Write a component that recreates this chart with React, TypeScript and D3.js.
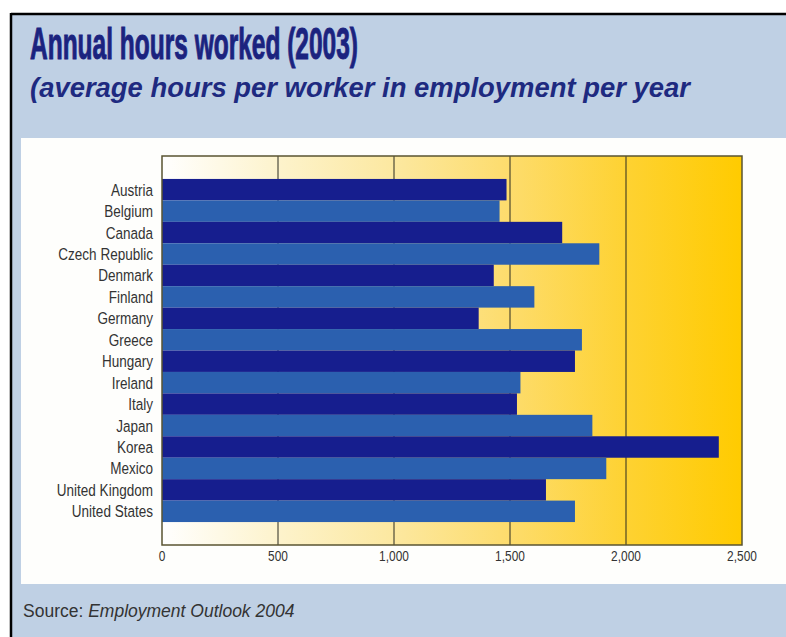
import * as d3 from "d3";

const countries = [
  "Austria",
  "Belgium",
  "Canada",
  "Czech Republic",
  "Denmark",
  "Finland",
  "Germany",
  "Greece",
  "Hungary",
  "Ireland",
  "Italy",
  "Japan",
  "Korea",
  "Mexico",
  "United Kingdom",
  "United States",
];
const hours = [1485, 1455, 1725, 1885, 1430, 1605, 1365, 1810, 1780, 1545, 1530, 1855, 2400, 1915, 1655, 1780];
const tickValues = [0, 500, 1000, 1500, 2000, 2500];
const gridValues = [500, 1000, 1500, 2000];

const W = 786;
const H = 637;
const sans = "'Liberation Sans', Arial, Helvetica, sans-serif";

export default function App() {
  const x = d3.scaleLinear().domain([0, 2500]).range([162, 742]);
  const y = d3.scaleBand<string>().domain(countries).range([156, 545]).paddingInner(0).paddingOuter(1.07);
  const fmt = d3.format(",");

  return (
    <svg width={W} height={H} style={{ position: "absolute", left: 0, top: 0, display: "block" }}>
      <defs>
        <linearGradient id="plotbg" x1="0" x2="1" y1="0" y2="0">
          <stop offset="0" stopColor="#ffffff" />
          <stop offset="0.2" stopColor="#fdf3cc" />
          <stop offset="0.4" stopColor="#fce8a0" />
          <stop offset="0.6" stopColor="#fddc6c" />
          <stop offset="0.8" stopColor="#fed232" />
          <stop offset="1" stopColor="#ffcb00" />
        </linearGradient>
      </defs>
      <rect x={0} y={0} width={W} height={H} fill="#ffffff" />
      <rect x={11} y={14} width={W - 11} height={H - 14} fill="#bfd0e4" />
      <line x1={11} x2={W} y1={14} y2={14} stroke="#000" strokeWidth={2.5} />
      <line x1={11} x2={11} y1={13} y2={H} stroke="#000" strokeWidth={2.5} />

      {/* title: heavy condensed look via squeezed bold + thin stroke */}
      <text
        x={30}
        y={59}
        fontFamily={sans}
        fontWeight="bold"
        fontSize={44}
        fill="#1b237f"
        stroke="#1b237f"
        strokeWidth={1}
        textLength={328}
        lengthAdjust="spacingAndGlyphs"
      >
        Annual hours worked (2003)
      </text>
      <text
        x={30}
        y={97}
        fontFamily={sans}
        fontWeight="bold"
        fontStyle="italic"
        fontSize={28}
        fill="#1e2a80"
        textLength={660}
        lengthAdjust="spacingAndGlyphs"
      >
        (average hours per worker in employment per year
      </text>

      <rect x={21} y={138} width={W - 21} height={446} fill="#fefefc" />

      <rect x={x(0)} y={156} width={x(2500) - x(0)} height={389} fill="url(#plotbg)" />
      {gridValues.map((v) => (
        <line key={v} x1={x(v)} x2={x(v)} y1={156} y2={545} stroke="#2a2a20" strokeWidth={1} />
      ))}
      {countries.map((c, i) => (
        <rect
          key={c}
          x={x(0)}
          y={y(c)}
          width={x(hours[i]) - x(0)}
          height={y.bandwidth()}
          fill={i % 2 === 0 ? "#161e8e" : "#2b60af"}
        />
      ))}
      <rect
        x={x(0)}
        y={156}
        width={x(2500) - x(0)}
        height={389}
        fill="none"
        stroke="#5a5432"
        strokeWidth={1.5}
      />

      {countries.map((c) => (
        <text
          key={c}
          transform={`translate(153,${(y(c) ?? 0) + y.bandwidth() / 2}) scale(0.82,1)`}
          dy="0.36em"
          textAnchor="end"
          fontFamily={sans}
          fontSize={16.5}
          fill="#333"
        >
          {c}
        </text>
      ))}

      {tickValues.map((v) => (
        <text
          key={v}
          transform={`translate(${x(v)},561) scale(0.85,1)`}
          textAnchor="middle"
          fontFamily={sans}
          fontSize={14}
          fill="#333"
        >
          {fmt(v)}
        </text>
      ))}

      <text x={23} y={617} fontFamily={sans} fontSize={17.5} fill="#333">
        Source: <tspan fontStyle="italic">Employment Outlook 2004</tspan>
      </text>
    </svg>
  );
}
